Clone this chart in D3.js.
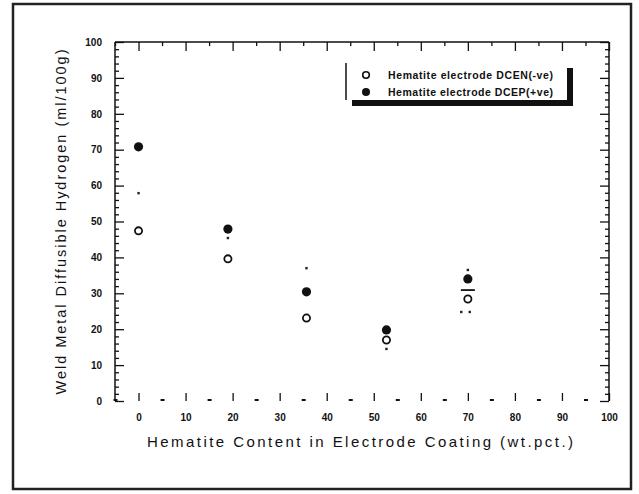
<!DOCTYPE html>
<html><head><meta charset="utf-8">
<script src="https://cdn.jsdelivr.net/npm/d3@7/dist/d3.min.js"></script>
<style>body{margin:0;background:#fff}svg{display:block}text{font-family:"Liberation Sans",Arial,sans-serif;fill:#111}</style>
</head><body><svg id="c" width="639" height="494"></svg>
<script>
// ---- data ----
const hematite = [0, 19, 35.7, 52.7, 70];
const dcenValues = [47.4, 39.6, 23.1, 17.0, 28.4];   // open circles
const dcepValues = [70.8, 47.9, 30.4, 19.8, 34.0];   // filled circles
const errX = [0, 19, 35.7, 52.7, 70, 68.6, 70.4];
const errY = [57.9, 45.4, 37.0, 14.5, 36.5, 24.8, 24.8];
const capX = [70];
const capY = [30.9];
const xTicks = [0, 10, 20, 30, 40, 50, 60, 70, 80, 90, 100];
const yTicks = [0, 10, 20, 30, 40, 50, 60, 70, 80, 90, 100];
const legendLabels = ["Hematite electrode DCEN(-ve)", "Hematite electrode DCEP(+ve)"];
const xTitle = "Hematite  Content  in  Electrode  Coating   (wt.pct.)";
const yTitle = "Weld Metal Diffusible Hydrogen (ml/100g)";

const svg = d3.select("#c");
const L = 115, R = 609, T = 42, B = 401;
const x = d3.scaleLinear().domain([-5, 100]).range([L, R]);
const y = d3.scaleLinear().domain([0, 100]).range([B, T]);

// outer border
svg.append("rect").attr("x", 13).attr("y", 4).attr("width", 618).attr("height", 485)
  .attr("fill", "none").attr("stroke", "#222").attr("stroke-width", 2.5);

// frame lines (left, top, right)
const frame = svg.append("g").attr("stroke", "#111").attr("stroke-width", 1.5);
frame.append("line").attr("x1", L).attr("x2", L).attr("y1", T).attr("y2", B);
frame.append("line").attr("x1", L).attr("x2", R).attr("y1", T).attr("y2", T);
frame.append("line").attr("x1", R).attr("x2", R).attr("y1", T).attr("y2", B);

const minorY = d3.range(0, 101, 2).filter(v => v % 10 !== 0);
const minorX = d3.range(-5, 101, 5).filter(v => v % 10 !== 0);

function cleanAxis(g){ g.select(".domain").remove(); g.selectAll("line").attr("stroke","#111").attr("stroke-width",1.3); }

// left axis (ticks inward)
svg.append("g").attr("transform", `translate(${L},0)`)
  .call(d3.axisLeft(y).tickValues(yTicks).tickSize(-9).tickPadding(13).tickFormat(d3.format("d")))
  .call(cleanAxis).call(g => g.selectAll("text").attr("font-size", 10).attr("font-weight", "bold").attr("fill","#111"));
svg.append("g").attr("transform", `translate(${L},0)`)
  .call(d3.axisLeft(y).tickValues(minorY).tickSize(-4).tickFormat(""))
  .call(cleanAxis);
// right axis
svg.append("g").attr("transform", `translate(${R},0)`)
  .call(d3.axisRight(y).tickValues(yTicks).tickSize(-9).tickFormat(""))
  .call(cleanAxis);
svg.append("g").attr("transform", `translate(${R},0)`)
  .call(d3.axisRight(y).tickValues(minorY).tickSize(-4).tickFormat(""))
  .call(cleanAxis);
// bottom axis
svg.append("g").attr("transform", `translate(0,${B})`)
  .call(d3.axisBottom(x).tickValues(xTicks).tickSize(-8).tickPadding(13).tickFormat(d3.format("d")))
  .call(cleanAxis).call(g => g.selectAll("text").attr("font-size", 10).attr("font-weight", "bold").attr("fill","#111"));
svg.append("g").attr("transform", `translate(0,${B})`)
  .call(d3.axisBottom(x).tickValues(minorX).tickSize(-2).tickFormat(""))
  .call(cleanAxis).call(g => g.selectAll("line").attr("stroke-width", 4));
// top axis
svg.append("g").attr("transform", `translate(0,${T})`)
  .call(d3.axisTop(x).tickValues(xTicks).tickSize(-9).tickFormat(""))
  .call(cleanAxis);
svg.append("g").attr("transform", `translate(0,${T})`)
  .call(d3.axisTop(x).tickValues(minorX).tickSize(-4).tickFormat(""))
  .call(cleanAxis);

// titles
svg.append("text").attr("x", 360).attr("y", 447).attr("text-anchor", "middle")
  .attr("font-size", 15).attr("textLength", 426).attr("lengthAdjust", "spacing").text(xTitle);
svg.append("text").attr("transform", "translate(66,222) rotate(-90)").attr("text-anchor", "middle")
  .attr("font-size", 14.5).attr("textLength", 345).attr("lengthAdjust", "spacing").text(yTitle);

// error marks (small dots and cap)
svg.append("g").selectAll("rect").data(errX).join("rect")
  .attr("x", (d, i) => x(d) - 1.2).attr("y", (d, i) => y(errY[i]) - 1.2)
  .attr("width", 2.4).attr("height", 2.4).attr("fill", "#222");
svg.append("g").selectAll("line").data(capX).join("line")
  .attr("x1", d => x(d) - 7).attr("x2", d => x(d) + 7)
  .attr("y1", (d, i) => y(capY[i])).attr("y2", (d, i) => y(capY[i]))
  .attr("stroke", "#111").attr("stroke-width", 1.8);

// data points
const pts = svg.append("g");
pts.selectAll("circle.open").data(hematite).join("circle").attr("class", "open")
  .attr("cx", d => x(d)).attr("cy", (d, i) => y(dcenValues[i])).attr("r", 3.6)
  .attr("fill", "#fff").attr("stroke", "#111").attr("stroke-width", 1.8);
pts.selectAll("circle.filled").data(hematite).join("circle").attr("class", "filled")
  .attr("cx", d => x(d)).attr("cy", (d, i) => y(dcepValues[i])).attr("r", 4.6)
  .attr("fill", "#111");

// legend
const lg = svg.append("g");
lg.append("rect").attr("x", 352).attr("y", 68).attr("width", 221).attr("height", 38).attr("fill", "#111");
lg.append("rect").attr("x", 346).attr("y", 63).attr("width", 221).attr("height", 37).attr("fill", "#fff");
lg.append("line").attr("x1", 346).attr("x2", 346).attr("y1", 63).attr("y2", 100).attr("stroke", "#111").attr("stroke-width", 1.5);
lg.append("circle").attr("cx", 366).attr("cy", 75).attr("r", 3.3).attr("fill", "#fff").attr("stroke", "#111").attr("stroke-width", 1.6);
lg.append("circle").attr("cx", 366).attr("cy", 92).attr("r", 4).attr("fill", "#111");
lg.selectAll("text").data(legendLabels).join("text")
  .attr("x", 388).attr("y", (d, i) => 79 + i * 17).attr("font-size", 10.5).attr("font-weight", "bold")
  .attr("textLength", 165).attr("lengthAdjust", "spacing").text(d => d);
</script></body></html>
